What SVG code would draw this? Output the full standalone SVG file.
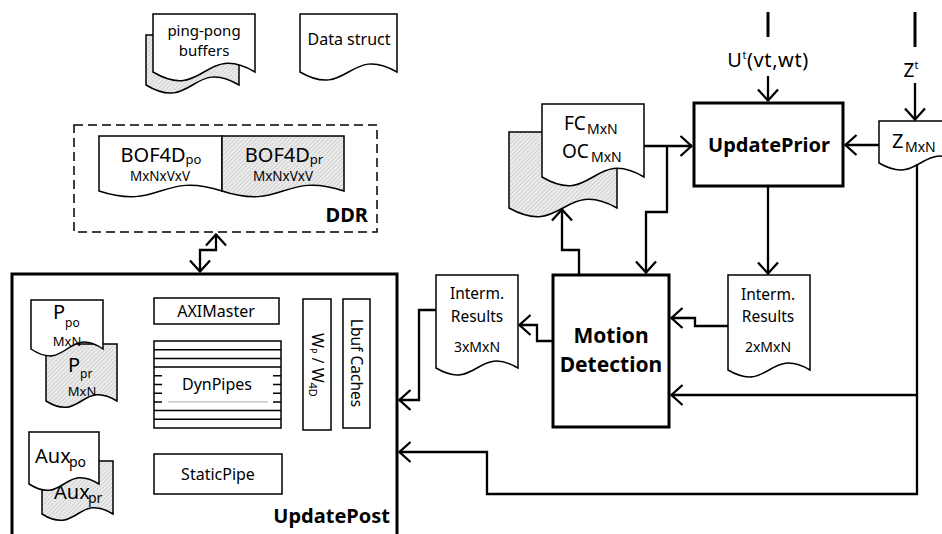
<svg xmlns="http://www.w3.org/2000/svg" width="942" height="534" viewBox="0 0 942 534">
<style>
.t{font-family:'Noto Sans','DejaVu Sans',sans-serif;fill:#000}
.b{font-weight:bold}
.m{text-anchor:middle}
.e{text-anchor:end}
.doc{fill:#fff;stroke:#000;stroke-width:1.5}
.hd{fill:url(#hatch);stroke:#000;stroke-width:1.5}
.box{fill:#fff;stroke:#000;stroke-width:1.5}
.main{fill:#fff;stroke:#000;stroke-width:3}
.conn{fill:none;stroke:#000;stroke-width:2.3}
.arr{marker-end:url(#ah)}
.ln{stroke:#000;stroke-width:1.5}
</style>
<defs>
<pattern id="hatch" patternUnits="userSpaceOnUse" width="3" height="3" patternTransform="rotate(45)">
<rect width="3" height="3" fill="#ececec"/>
<line x1="0" y1="0" x2="0" y2="3" stroke="#b4b4b4" stroke-width="1"/>
</pattern>
<marker id="ah" markerUnits="userSpaceOnUse" viewBox="-14 -12 16 24" markerWidth="16" markerHeight="24" refX="0.5" refY="0" orient="auto-start-reverse">
<path d="M-11,-10 L0,0 L-11,10" fill="none" stroke="#000" stroke-width="2.3"/>
</marker>
</defs>
<rect width="942" height="534" fill="#fff"/>

<g id="pingpong">
<path class="hd" d="M146,35 H239 V85 C192.5,57 192.5,113 146,85 Z"/>
<path class="doc" d="M153,14 H255 V72 C204,42 204,102 153,72 Z"/>
<text class="t m" x="204" y="36" font-size="15">ping-pong</text>
<text class="t m" x="204" y="56" font-size="15">buffers</text>
</g>

<g id="datastruct">
<path class="doc" d="M300,14 H397 V72 C348.5,44 348.5,100 300,72 Z"/>
<text class="t m" x="349" y="45" font-size="16">Data struct</text>
</g>

<g id="ddr">
<rect x="74" y="125" width="303" height="107" fill="none" stroke="#000" stroke-width="1.5" stroke-dasharray="9,5"/>
<path class="doc" d="M99,136 H222 V191 C160.5,171 160.5,211 99,191 Z"/>
<path class="hd" d="M222,136 H344 V191 C283,171 283,211 222,191 Z"/>
<text class="t m" x="161" y="162" font-size="20">BOF4D<tspan font-size="13" dy="2">po</tspan></text>
<text class="t m" x="160" y="181" font-size="13.5">MxNxVxV</text>
<text class="t m" x="284" y="162" font-size="20">BOF4D<tspan font-size="13" dy="2">pr</tspan></text>
<text class="t m" x="283" y="181" font-size="13.5">MxNxVxV</text>
<text class="t b e" x="368" y="222" font-size="20">DDR</text>
</g>

<g id="updatepost">
<rect class="main" x="12" y="274" width="385" height="300"/>
<path class="hd" d="M46,344 H117 V401 C81.5,379 81.5,423 46,401 Z"/>
<path class="doc" d="M31,300 H103 V349 C67,325 67,373 31,349 Z"/>
<text class="t" x="53" y="319" font-size="20">P</text>
<text class="t" x="65" y="327" font-size="12">po</text>
<text class="t m" x="67" y="346" font-size="13">MxN</text>
<text class="t" x="68" y="372" font-size="20">P</text>
<text class="t" x="80" y="378" font-size="12">pr</text>
<text class="t m" x="82" y="396" font-size="13">MxN</text>
<path class="hd" d="M42,461 H113 V514 C77.5,492 77.5,536 42,514 Z"/>
<text class="t" x="54" y="499" font-size="20">Aux</text>
<text class="t" x="88" y="503" font-size="14">pr</text>
<path class="doc" d="M29,432 H99 V484 C64,462 64,506 29,484 Z"/>
<text class="t" x="35" y="463" font-size="20">Aux</text>
<text class="t" x="69" y="467" font-size="14">po</text>
<rect class="box" x="154" y="298" width="125" height="26"/>
<text class="t m" x="216" y="316.5" font-size="16">AXIMaster</text>
<g id="dynpipes">
<rect class="box" x="154" y="341" width="127" height="87"/>
<path class="ln" d="M154,349.7H281M154,358.4H281M154,367.1H281M154,410.6H281M154,419.3H281M154,375.8h8M154,384.5h8M154,393.2h8M154,401.9h8M281,375.8h-8M281,384.5h-8M281,393.2h-8M281,401.9h-8"/>
<path d="M168,401.9H268" stroke="#aaa" stroke-width="1"/>
<text class="t m" x="217" y="390" font-size="16">DynPipes</text>
</g>
<rect class="box" x="154" y="454" width="128" height="40"/>
<text class="t m" x="218" y="480" font-size="16">StaticPipe</text>
<rect class="box" x="303" y="299" width="28" height="131"/>
<text class="t m" transform="translate(317,365) rotate(90)" x="0" y="5.5" font-size="16">W<tspan font-size="9" dy="2">P</tspan><tspan dy="-2"> / W</tspan><tspan font-size="11" dy="3">4D</tspan></text>
<rect class="box" x="343" y="299" width="27" height="129"/>
<text class="t m" transform="translate(356.5,363) rotate(90)" x="0" y="5.5" font-size="15.5">Lbuf Caches</text>
<text class="t b e" x="390" y="523" font-size="20">UpdatePost</text>
</g>

<g id="fcoc">
<path class="hd" d="M509,132 H617 V208 C563,178 563,238 509,208 Z"/>
<path class="doc" d="M542,104 H644 V177 C593,147 593,207 542,177 Z"/>
<text class="t" x="564" y="130" font-size="19">FC</text>
<text class="t" x="587" y="134" font-size="14">MxN</text>
<text class="t" x="562" y="158" font-size="19">OC</text>
<text class="t" x="591" y="162" font-size="14">MxN</text>
</g>

<g id="updateprior">
<rect class="main" x="694" y="103" width="149" height="83"/>
<text class="t b m" x="769" y="152" font-size="20">UpdatePrior</text>
</g>

<g id="zdoc">
<path class="doc" d="M879,121 H962 V163 C920.5,139 920.5,187 879,163 Z"/>
<text class="t" x="892" y="148" font-size="20">Z</text>
<text class="t" x="905" y="152" font-size="14">MxN</text>
</g>

<g id="uinput">
<text class="t m" x="768" y="67" font-size="20" letter-spacing="0.6">U<tspan font-size="11" dy="-8">t</tspan><tspan dy="8">(vt,wt)</tspan></text>
</g>
<g id="zinput">
<text class="t m" x="911" y="77" font-size="19">Z<tspan font-size="11" dy="-8">t</tspan></text>
</g>

<g id="interm2">
<path class="doc" d="M728,275 H810 V370 C769,346 769,394 728,370 Z"/>
<text class="t m" x="768" y="300" font-size="15.5">Interm.</text>
<text class="t m" x="768" y="322" font-size="15.5">Results</text>
<text class="t m" x="768" y="352" font-size="14">2xMxN</text>
</g>

<g id="interm3">
<path class="doc" d="M436,275 H518 V368 C477,344 477,392 436,368 Z"/>
<text class="t m" x="477" y="299" font-size="15.5">Interm.</text>
<text class="t m" x="477" y="322" font-size="15.5">Results</text>
<text class="t m" x="477" y="352" font-size="14">3xMxN</text>
</g>

<g id="motiondetection">
<rect class="main" x="553" y="275" width="116" height="152"/>
<text class="t b m" x="611" y="343" font-size="21">Motion</text>
<text class="t b m" x="611" y="372" font-size="21">Detection</text>
</g>

<g id="connectors">
<path class="conn" d="M216,234 V250 H200 V272" marker-start="url(#ah)" marker-end="url(#ah)"/>
<path class="conn arr" d="M644,146 H692"/>
<path class="conn arr" d="M667,146 V212 H646 V273"/>
<path class="conn arr" d="M579,275 V250 H562 V209"/>
<path class="conn arr" d="M879,145 H845"/>
<path d="M768,12 V37" stroke="#000" stroke-width="3"/>
<path class="conn arr" d="M768,76 V101"/>
<path d="M915,12 V47" stroke="#000" stroke-width="3"/>
<path class="conn arr" d="M915,83 V120"/>
<path class="conn arr" d="M768,187 V274"/>
<path class="conn arr" d="M728,326 H695 V318 H671"/>
<path class="conn arr" d="M917,164 V494 H487 V452 H399"/>
<path class="conn arr" d="M917,395 H671"/>
<path class="conn arr" d="M553,341 H537 V325 H519"/>
<path class="conn arr" d="M436,310 H419 V400 H399"/>
</g>
</svg>
